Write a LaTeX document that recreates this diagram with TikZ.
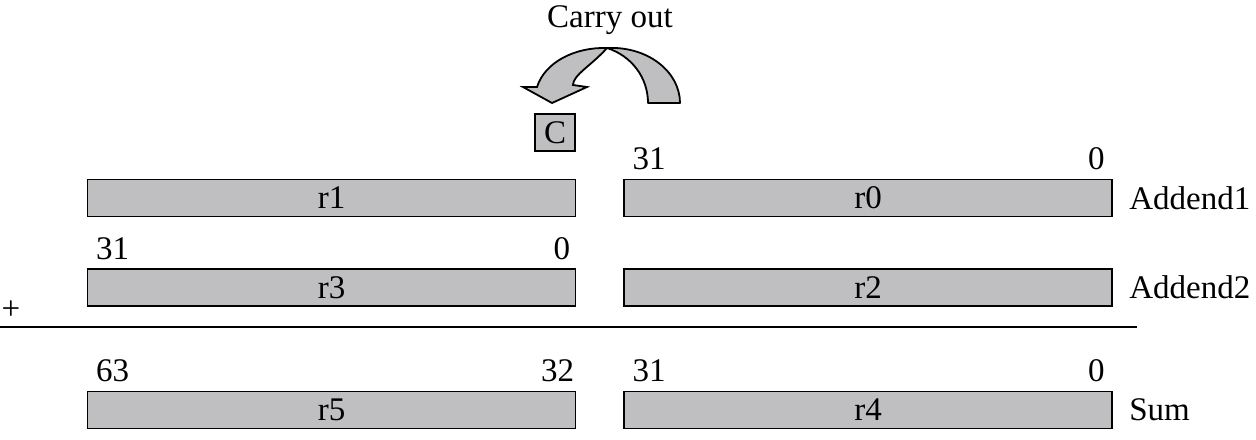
\documentclass[tikz,border=0pt]{standalone}
\usepackage{fontspec}
\setmainfont{Liberation Serif}
\usetikzlibrary{positioning}
\definecolor{reggray}{RGB}{191,191,193}

\begin{document}
\begin{tikzpicture}[
   x=0.5pt, y=-0.5pt,
   regbox/.style={draw, line width=0.9pt, fill=reggray, minimum width=244pt,
                  minimum height=18.5pt, inner sep=0pt},
   bitlabel/.style={inner sep=0pt},
   rowlabel/.style={inner sep=0pt, anchor=west},
   every node/.append style={font=\fontsize{16.5}{19}\selectfont}  % <-- one size for all texts
]
\useasboundingbox (0,0) rectangle (1256,439);

% registers
\node[regbox] (r1) at (331.5,198)   {r1};
\node[regbox] (r0) at (868,198)     {r0};
\node[regbox] (r3) at (331.5,287.5) {r3};
\node[regbox] (r2) at (868,287.5)   {r2};
\node[regbox] (r5) at (331.5,410)   {r5};
\node[regbox] (r4) at (868,410)     {r4};

% bit numbers
\node[bitlabel, anchor=base west] at ([xshift=4.5pt,yshift=4.5pt]r0.north west) {31};
\node[bitlabel, anchor=base east] at ([xshift=-4pt,yshift=4.5pt]r0.north east)  {0};
\node[bitlabel, anchor=base west] at ([xshift=4.5pt,yshift=4.5pt]r3.north west) {31};
\node[bitlabel, anchor=base east] at ([xshift=-3pt,yshift=4.5pt]r3.north east)  {0};
\node[bitlabel, anchor=base west] at ([xshift=4.5pt,yshift=4.5pt]r5.north west) {63};
\node[bitlabel, anchor=base east] at ([xshift=-1pt,yshift=4.5pt]r5.north east)  {32};
\node[bitlabel, anchor=base west] at ([xshift=4.5pt,yshift=4.5pt]r4.north west) {31};
\node[bitlabel, anchor=base east] at ([xshift=-4pt,yshift=4.5pt]r4.north east)  {0};

% row names
\node[rowlabel, right=8pt of r0] (add1) {Addend1};
\node[rowlabel, right=8pt of r2] (add2) {Addend2};
\node[rowlabel, right=8pt of r4] (sum)  {Sum};

% addition line
\node[inner sep=0pt] (plus) at (11,310) {+};
\coordinate (lineL) at (0,327);
\coordinate (lineR) at (1137,327);
\draw[line width=0.9pt] (lineL) -- (lineR);

% carry flag and curved arrow
\node[draw, line width=0.9pt, fill=reggray, minimum width=20pt, minimum height=18.5pt,
      inner sep=0pt] (C) at (555,132.5) {C};
\node[inner sep=0pt, anchor=base] (carry) at (610,27) {Carry out};
\draw[line width=0.9pt, fill=reggray, line join=round]
   (648,103) -- (680,103) .. controls (680,72) and (648,46) .. (607,48)
   .. controls (632,56) and (648,78) .. cycle;
\draw[line width=0.9pt, fill=reggray, line join=miter]
   (607,48) .. controls (575,47) and (545,62) .. (537,87) -- (523,87) -- (552,103)
   -- (587,87) -- (573,85) .. controls (573,75) and (592,65) .. cycle;
\end{tikzpicture}
\end{document}
